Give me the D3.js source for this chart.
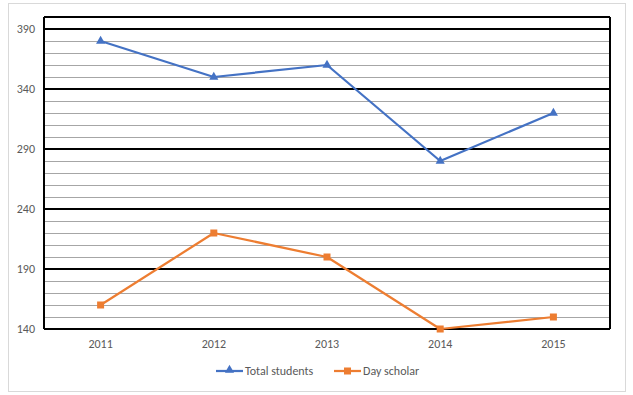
<!DOCTYPE html>
<html>
<head>
<meta charset="utf-8">
<script src="https://cdn.jsdelivr.net/npm/d3@7"></script>
<style>
body { margin: 0; background: #fff; }
text { font-family: Calibri, Carlito, "Liberation Sans", Arial, sans-serif; fill: #595959; }
</style>
</head>
<body>
<script>
//data
var years = ['2011', '2012', '2013', '2014', '2015'];
var total_students = [380, 350, 360, 280, 320];
var day_scholar = [160, 220, 200, 140, 150];
var major_ticks = [140, 190, 240, 290, 340, 390];
var series_names = ['Total students', 'Day scholar'];

//layout
var svg_width = 633, svg_height = 395;
var plot = {left: 44, right: 610, top: 17, bottom: 329};
var blue = '#4472C4', orange = '#ED7D31';

var svg = d3.select('body').append('svg')
    .attr('width', svg_width)
    .attr('height', svg_height);

//chart border
svg.append('rect')
    .attr('x', 8.5).attr('y', 3.5)
    .attr('width', 617).attr('height', 388)
    .attr('fill', 'none').attr('stroke', '#d9d9d9');

var x = d3.scaleBand().domain(years).range([plot.left, plot.right]);
var y = d3.scaleLinear().domain([140, 400]).range([plot.bottom, plot.top]);

//minor grid every 10
var minor = d3.range(150, 400, 10).filter(function(v) { return major_ticks.indexOf(v) < 0; });
svg.append('g').selectAll('line').data(minor).enter().append('line')
    .attr('x1', plot.left).attr('x2', plot.right)
    .attr('y1', function(d) { return Math.round(y(d)) + 0.5; })
    .attr('y2', function(d) { return Math.round(y(d)) + 0.5; })
    .attr('stroke', '#a6a6a6').attr('stroke-width', 1);

//major grid
svg.append('g').selectAll('line').data(major_ticks.concat([400])).enter().append('line')
    .attr('x1', plot.left).attr('x2', plot.right)
    .attr('y1', function(d) { return Math.round(y(d)); })
    .attr('y2', function(d) { return Math.round(y(d)); })
    .attr('stroke', '#000').attr('stroke-width', 2);

//plot box sides
svg.append('line').attr('x1', plot.left).attr('x2', plot.left)
    .attr('y1', plot.top).attr('y2', plot.bottom)
    .attr('stroke', '#000').attr('stroke-width', 2);
svg.append('line').attr('x1', plot.right).attr('x2', plot.right)
    .attr('y1', plot.top).attr('y2', plot.bottom)
    .attr('stroke', '#000').attr('stroke-width', 2);

//y labels
var axis_y = d3.axisLeft(y).tickValues(major_ticks).tickSize(0).tickPadding(9);
var gy = svg.append('g').attr('transform', 'translate(' + plot.left + ',0)').call(axis_y);
gy.select('.domain').remove();
gy.selectAll('text').style('font-size', '12px').attr('fill', '#595959');

//x labels
var axis_x = d3.axisBottom(x).tickSize(0).tickPadding(10);
var gx = svg.append('g').attr('transform', 'translate(0,' + plot.bottom + ')').call(axis_x);
gx.select('.domain').remove();
gx.selectAll('text').style('font-size', '12px').attr('fill', '#595959');

var cx = function(d, i) { return x(years[i]) + x.bandwidth() / 2; };
var line = d3.line().x(cx).y(function(d) { return y(d); });

var tri = d3.symbol().type(d3.symbolTriangle).size(36);

//total students
svg.append('path').datum(total_students)
    .attr('d', line).attr('fill', 'none')
    .attr('stroke', blue).attr('stroke-width', 2.25).attr('stroke-linejoin', 'round');
svg.append('g').selectAll('path').data(total_students).enter().append('path')
    .attr('d', tri)
    .attr('transform', function(d, i) { return 'translate(' + cx(d, i) + ',' + y(d) + ')'; })
    .attr('fill', blue);

//day scholar
svg.append('path').datum(day_scholar)
    .attr('d', line).attr('fill', 'none')
    .attr('stroke', orange).attr('stroke-width', 2.25).attr('stroke-linejoin', 'round');
svg.append('g').selectAll('rect').data(day_scholar).enter().append('rect')
    .attr('x', function(d, i) { return cx(d, i) - 3.5; })
    .attr('y', function(d) { return y(d) - 3.5; })
    .attr('width', 7).attr('height', 7)
    .attr('fill', orange);

//legend
var legend = [
    {name: series_names[0], color: blue, x: 216},
    {name: series_names[1], color: orange, x: 334}
];
var lg = svg.append('g');
legend.forEach(function(l, i) {
    lg.append('line').attr('x1', l.x).attr('x2', l.x + 27)
        .attr('y1', 371).attr('y2', 371)
        .attr('stroke', l.color).attr('stroke-width', 2.25);
    if (i == 0) {
        lg.append('path').attr('d', tri)
            .attr('transform', 'translate(' + (l.x + 13.5) + ',370)')
            .attr('fill', l.color);
    } else {
        lg.append('rect').attr('x', l.x + 10).attr('y', 367.5)
            .attr('width', 7).attr('height', 7).attr('fill', l.color);
    }
    lg.append('text').attr('x', l.x + 29).attr('y', 375)
        .style('font-size', '12px').text(l.name);
});
</script>
</body>
</html>
